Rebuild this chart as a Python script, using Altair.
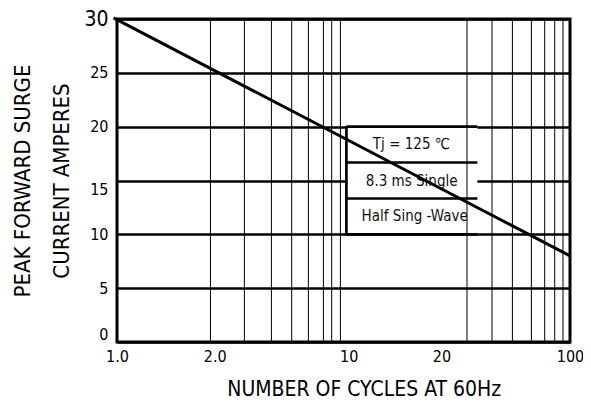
import altair as alt
import pandas as pd

# ---- data ----
curve_x = [0.965, 100]          # number of cycles (line end points)
curve_y = [30.1, 8.0]           # peak forward surge current (A)

grid_x = [2.585, 3.651, 4.805, 5.906, 6.998, 8.153, 8.868, 9.690,
          35.10, 45.25, 55.68, 67.53, 77.32, 85.60, 93.13]

x_tick_pos = [1.0, 2.70, 10.54, 27.05, 100]
x_tick_text = ["1.0", "2.0", "10", "20", "100"]
y_ticks = [0, 5, 10, 15, 20, 25, 30]

box_x = [10.30, 39.0]
box_y = [10, 20]
box_lines_y = [20, 16.67, 13.33, 10]
box_text = ["Tj = 125 \u2103", "8.3 ms  Single", "Half  Sing -Wave"]
box_text_x = [19.94, 20.0, 20.62]
box_text_y = [18.4, 15.0, 11.67]

FONT = "DejaVu Sans Condensed, sans-serif"

xscale = alt.Scale(type="log", domain=[1, 100], nice=False)
yscale = alt.Scale(domain=[0, 30], nice=False, zero=False)

label_expr = "[" + ",".join("'%s'" % t for t in x_tick_text) + "][indexof([" + \
    ",".join(str(v) for v in x_tick_pos) + "], datum.value)]"

xaxis = alt.Axis(values=x_tick_pos, labelExpr=label_expr, grid=False, domain=False,
                 ticks=False, labelFlush=False, labelOverlap=False, labelFontSize=16,
                 labelFont=FONT, labelColor="black", labelPadding=6,
                 title="NUMBER  OF  CYCLES  AT  60Hz", titleFont=FONT, titleFontSize=21,
                 titleFontWeight="normal", titleColor="black", titleX=246.7, titleY=53.3,
                 titleBaseline="alphabetic")

yaxis = alt.Axis(values=y_ticks, grid=True, gridColor="black", gridWidth=2.7, gridOpacity=1,
                 domain=False, ticks=False, labelFont=FONT,
                 labelFontSize=alt.condition("datum.value == 30", alt.value(21), alt.value(16)),
                 labelOffset={"condition": [{"test": "datum.value == 15", "value": 9},
                                            {"test": "datum.value == 0", "value": -8}],
                              "value": 0},
                 labelColor="black", labelPadding=9,
                 title=["PEAK  FORWARD  SURGE", "CURRENT  AMPERES"], titleFont=FONT,
                 titleFontSize=22, titleFontWeight="normal", titleColor="black",
                 titleLineHeight=39, titleX=-94.3, titleY=161.5, titleBaseline="middle",
                 titleAlign="center", titleAngle=270)

base_df = pd.DataFrame({"x": curve_x, "y": curve_y})

# invisible base carrying the axes
axes = alt.Chart(base_df).mark_point(opacity=0).encode(
    x=alt.X("x:Q", scale=xscale, axis=xaxis),
    y=alt.Y("y:Q", scale=yscale, axis=yaxis),
)

box_df = pd.DataFrame({"x": [box_x[0]], "x2": [box_x[1]], "y": [box_y[0]], "y2": [box_y[1]]})
box = alt.Chart(box_df).mark_rect(fill="white").encode(
    x=alt.X("x:Q", scale=xscale), x2="x2:Q",
    y=alt.Y("y:Q", scale=yscale), y2="y2:Q",
)

vgrid_df = pd.DataFrame({"x": grid_x, "y": [0] * len(grid_x), "y2": [30] * len(grid_x)})
vgrid = alt.Chart(vgrid_df).mark_rule(color="black", strokeWidth=1).encode(
    x=alt.X("x:Q", scale=xscale), y=alt.Y("y:Q", scale=yscale), y2="y2:Q",
)

bl_df = pd.DataFrame({"y": box_lines_y, "x": [box_x[0]] * 4, "x2": [box_x[1]] * 4})
box_h = alt.Chart(bl_df).mark_rule(color="black", strokeWidth=2.7).encode(
    y=alt.Y("y:Q", scale=yscale), x=alt.X("x:Q", scale=xscale), x2="x2:Q",
)
bv_df = pd.DataFrame({"x": [box_x[0]], "y": [box_y[0]], "y2": [box_y[1]]})
box_v = alt.Chart(bv_df).mark_rule(color="black", strokeWidth=2.7).encode(
    x=alt.X("x:Q", scale=xscale), y=alt.Y("y:Q", scale=yscale), y2="y2:Q",
)

txt_df = pd.DataFrame({"x": box_text_x, "y": box_text_y, "t": box_text})
txt = alt.Chart(txt_df).mark_text(font=FONT, fontSize=15, color="#111", align="center",
                                  baseline="middle").encode(
    x=alt.X("x:Q", scale=xscale), y=alt.Y("y:Q", scale=yscale), text="t:N",
)

curve = alt.Chart(base_df).mark_line(color="black", strokeWidth=3, clip=False).encode(
    x=alt.X("x:Q", scale=xscale), y=alt.Y("y:Q", scale=yscale),
)

chart = alt.layer(axes, box, vgrid, box_h, box_v, txt, curve).properties(
    width=453, height=323,
    autosize=alt.AutoSizeParams(type="none"),
    padding={"left": 109, "top": 11, "right": 13, "bottom": 59},
    background="white",
).configure_view(stroke="black", strokeWidth=3)

chart.save("out.html", embed_options={"renderer": "svg", "actions": False})
